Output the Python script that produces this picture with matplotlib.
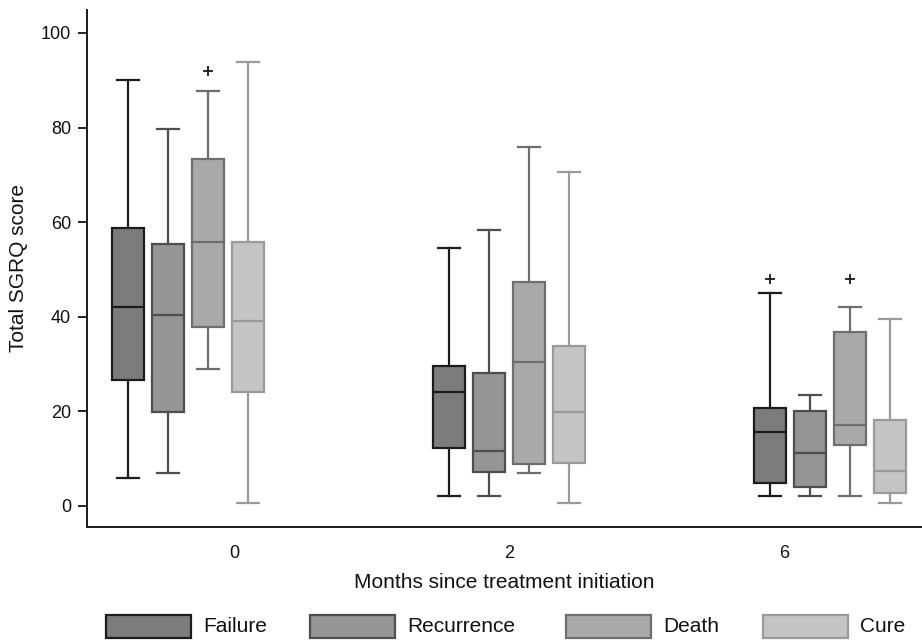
import matplotlib
matplotlib.use("Agg")
import matplotlib.pyplot as plt
from matplotlib.patches import Rectangle

plt.rcParams['font.family'] = ['Liberation Sans', 'DejaVu Sans']

months = ["0", "2", "6"]
outcomes = ["Failure", "Recurrence", "Death", "Cure"]

# five-number summaries per outcome, per month: [whisker low, q1, median, q3, whisker high]
failure = [[6.0, 26.6, 42.1, 58.7, 90.1],
           [2.2, 12.2, 24.0, 29.7, 54.5],
           [2.2, 4.9, 15.6, 20.8, 45.0]]
recurrence = [[7.0, 19.9, 40.3, 55.3, 79.7],
              [2.2, 7.1, 11.6, 28.1, 58.3],
              [2.2, 4.1, 11.1, 20.0, 23.4]]
death = [[28.9, 37.8, 55.9, 73.3, 87.7],
         [7.0, 8.8, 30.4, 47.3, 76.0],
         [2.2, 12.9, 17.2, 36.8, 42.1]]
cure = [[0.7, 24.2, 39.2, 55.8, 93.8],
        [0.7, 9.0, 19.9, 33.9, 70.6],
        [0.7, 2.7, 7.4, 18.1, 39.5]]

failure_out = [[], [], [48.0]]
recurrence_out = [[], [], []]
death_out = [[92.0], [], [47.9]]
cure_out = [[], [], []]

series = [failure, recurrence, death, cure]
outliers = [failure_out, recurrence_out, death_out, cure_out]

fills = ["#7c7c7c", "#959595", "#a9a9a9", "#c4c4c4"]
edges = ["#1c1c1c", "#4e4e4e", "#6e6e6e", "#9a9a9a"]

group_centers = [0.0, 8.03, 16.06]
offsets = [-1.5, -0.5, 0.5, 1.5]
tick_pos = [1.15, 8.03, 14.9]

fig = plt.figure(figsize=(9.22, 6.40), dpi=100)
ax = fig.add_axes([87/922, 1-527/640, 1-87/922, (527-10)/640])

for k in range(4):
    for g in range(3):
        lo, q1, med, q3, hi = series[k][g]
        stats = [dict(whislo=lo, q1=q1, med=med, q3=q3, whishi=hi,
                      fliers=outliers[k][g])]
        ax.bxp(stats, positions=[group_centers[g] + offsets[k]], widths=0.8,
               patch_artist=True, showfliers=True,
               boxprops=dict(facecolor=fills[k], edgecolor=edges[k], linewidth=1.6),
               medianprops=dict(color=edges[k], linewidth=1.6),
               whiskerprops=dict(color=edges[k], linewidth=1.6),
               capprops=dict(color=edges[k], linewidth=1.6),
               capwidths=0.55,
               flierprops=dict(marker='+', markersize=7, markeredgecolor='#1a1a1a',
                               markeredgewidth=1.3, linestyle='none'))

ax.set_xlim(-2.525, 18.35)
ax.set_ylim(-4.44, 104.86)
ax.set_xticks(tick_pos)
ax.set_xticklabels(months)
ax.set_yticks([0, 20, 40, 60, 80, 100])
ax.tick_params(axis='x', length=0, pad=13, labelsize=13, colors='#111111')
ax.tick_params(axis='y', length=6.5, width=1.3, pad=5, labelsize=13, colors='#111111')
for s in ['top', 'right']:
    ax.spines[s].set_visible(False)
for s in ['left', 'bottom']:
    ax.spines[s].set_linewidth(1.4)
    ax.spines[s].set_color('#1a1a1a')

ax.set_ylabel("Total SGRQ score", fontsize=15, labelpad=9, color='#111111')
ax.set_xlabel("Months since treatment initiation", fontsize=15, labelpad=8, color='#111111')

# legend
patch_x = [106, 310, 566, 763]
for k in range(4):
    x0 = patch_x[k] / 922
    fig.patches.append(Rectangle((x0, 1-638/640), 85/922, 23/640,
                                 transform=fig.transFigure, facecolor=fills[k],
                                 edgecolor=edges[k], linewidth=1.6))
    fig.text((patch_x[k] + 97) / 922, 1-627/640, outcomes[k], fontsize=15,
             va='center', ha='left', color='#111111')

fig.savefig("out.png", dpi=100)
